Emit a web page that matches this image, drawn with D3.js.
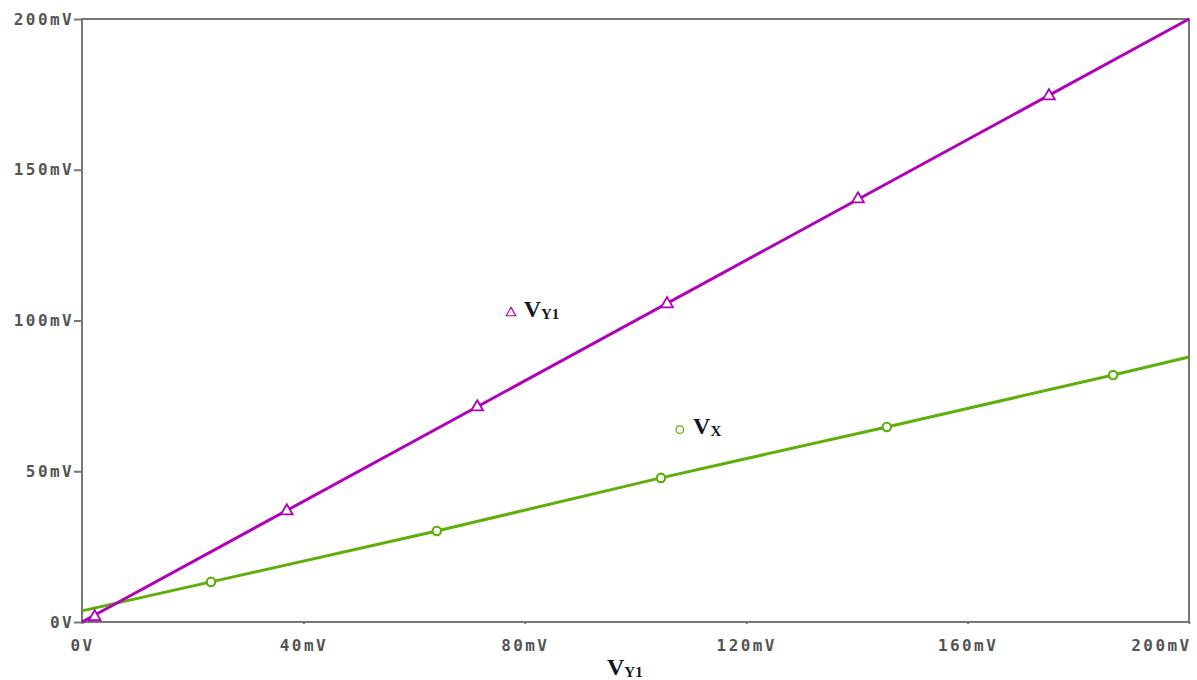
<!DOCTYPE html>
<html>
<head>
<meta charset="utf-8">
<script src="https://cdn.jsdelivr.net/npm/d3@7"></script>
<style>
  body { margin: 0; background: #fff; }
  .tick text { font-family: "DejaVu Sans Mono", monospace; font-weight: bold; font-size: 16px; letter-spacing: 2.4px; fill: #555; }
  .lbl { font-family: "Liberation Serif", serif; font-weight: bold; fill: #141428; }
</style>
</head>
<body>
<div id="chart"></div>
<script>
// values in mV
var xTicks = [0, 40, 80, 120, 160, 200]
var yTicks = [0, 50, 100, 150, 200]
var xTickLabels = ['0V', '40mV', '80mV', '120mV', '160mV', '200mV']
var yTickLabels = ['0V', '50mV', '100mV', '150mV', '200mV']

var vy1X = [0, 200]
var vy1Y = [0, 200]
var vxX = [0, 23.3, 64.1, 104.6, 145.4, 186.3, 200]
var vxY = [3.7, 13.3, 30.2, 47.8, 64.7, 81.9, 87.9]

var vy1MarkX = [2.3, 37, 71.4, 105.7, 140.2, 174.7]
var vy1MarkY = [1.7, 36.8, 71.3, 105.5, 140.3, 174.5]
var vxMarkX = [23.3, 64.1, 104.6, 145.4, 186.3]
var vxMarkY = [13.3, 30.2, 47.8, 64.7, 81.9]

var magenta = '#b000b8', green = '#5fae0a'

var margin = {top: 19, right: 8, bottom: 58, left: 82},
    width = 1197 - margin.left - margin.right,
    height = 680 - margin.top - margin.bottom;

var svg = d3.select('#chart').append('svg')
    .attr('width', 1197).attr('height', 680)
  .append('g')
    .attr('transform', 'translate(' + margin.left + ',' + margin.top + ')');

var x = d3.scaleLinear().domain([0, 200]).range([0, width])
var y = d3.scaleLinear().domain([0, 200]).range([height, 0])

// frame
svg.append('rect').attr('width', width).attr('height', height)
    .attr('fill', 'none').attr('stroke', '#777').attr('stroke-width', 2)

svg.append('g')
    .attr('transform', 'translate(0,' + height + ')')
    .call(d3.axisBottom(x).tickValues(xTicks).tickSize(2).tickPadding(16)
        .tickFormat(function(d, i) { return xTickLabels[i] }))
    .call(function(g) {
        g.select('.domain').remove()
        g.selectAll('line').attr('stroke', '#777').attr('stroke-width', 2)
        g.selectAll('.tick text').filter(function(d) { return d == 200 })
            .attr('text-anchor', 'end').attr('dx', 2)
    })

svg.append('g')
    .call(d3.axisLeft(y).tickValues(yTicks).tickSize(8).tickPadding(0)
        .tickFormat(function(d, i) { return yTickLabels[i] }))
    .call(function(g) { g.select('.domain').remove(); g.selectAll('line').attr('stroke', '#777').attr('stroke-width', 2) })

var line = d3.line().x(function(d) { return x(d[0]) }).y(function(d) { return y(d[1]) })

svg.append('path').datum(d3.zip(vxX, vxY))
    .attr('fill', 'none').attr('stroke', green).attr('stroke-width', 3).attr('d', line)
svg.append('path').datum(d3.zip(vy1X, vy1Y))
    .attr('fill', 'none').attr('stroke', magenta).attr('stroke-width', 3).attr('d', line)

var tri = d3.symbol().type(d3.symbolTriangle).size(60)
svg.selectAll('.tri').data(d3.zip(vy1MarkX, vy1MarkY)).enter().append('path')
    .attr('transform', function(d) { return 'translate(' + x(d[0]) + ',' + y(d[1]) + ')' })
    .attr('d', tri).attr('fill', '#fff').attr('stroke', magenta).attr('stroke-width', 1.8)

svg.selectAll('.circ').data(d3.zip(vxMarkX, vxMarkY)).enter().append('circle')
    .attr('cx', function(d) { return x(d[0]) }).attr('cy', function(d) { return y(d[1]) })
    .attr('r', 4.2).attr('fill', '#fff').attr('stroke', green).attr('stroke-width', 2.2)

// legend labels inside the plot
svg.append('path').attr('d', d3.symbol().type(d3.symbolTriangle).size(40)())
    .attr('transform', 'translate(' + x(77.5) + ',' + y(102.5) + ')')
    .attr('fill', 'none').attr('stroke', magenta).attr('stroke-width', 1.2)
var t1 = svg.append('text').attr('class', 'lbl').attr('x', x(79.8)).attr('y', y(101))
t1.append('tspan').attr('font-size', 24).text('V')
t1.append('tspan').attr('font-size', 15).attr('dy', 2).text('Y1')

svg.append('circle').attr('cx', x(108)).attr('cy', y(63.8)).attr('r', 3.8)
    .attr('fill', 'none').attr('stroke', green).attr('stroke-width', 1.3)
var t2 = svg.append('text').attr('class', 'lbl').attr('x', x(110.4)).attr('y', y(62.3))
t2.append('tspan').attr('font-size', 24).text('V')
t2.append('tspan').attr('font-size', 15).attr('dy', 2).text('X')

// x axis title
var t3 = svg.append('text').attr('class', 'lbl').attr('x', 525).attr('y', height + 53)
t3.append('tspan').attr('font-size', 24).text('V')
t3.append('tspan').attr('font-size', 15).attr('dy', 2).text('Y1')
</script>
</body>
</html>
